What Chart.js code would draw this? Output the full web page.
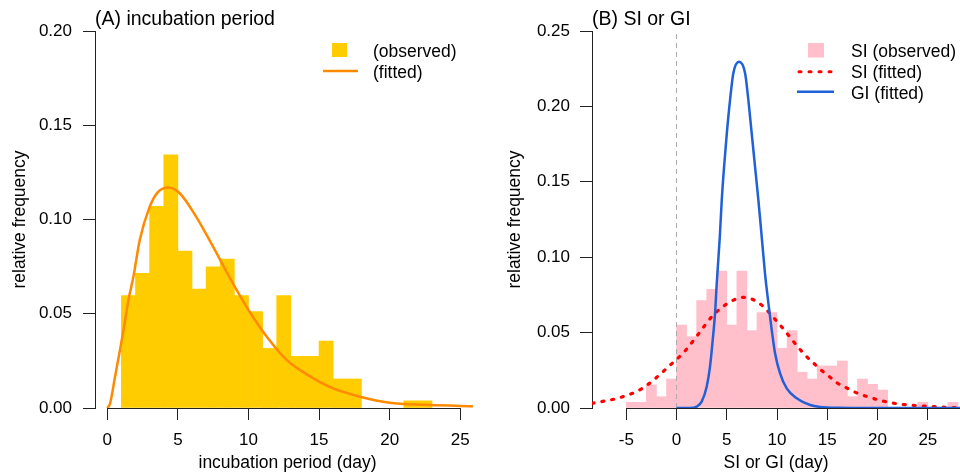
<!DOCTYPE html>
<html><head><meta charset="utf-8">
<script src="https://cdn.jsdelivr.net/npm/chart.js@4"></script>
<style>
html,body{margin:0;padding:0;background:#fff;width:960px;height:474px;overflow:hidden}
canvas{position:absolute;top:0}
#cA{left:0}
#cB{left:480px}
</style></head><body>
<canvas id="cA" width="480" height="474"></canvas>
<canvas id="cB" width="480" height="474"></canvas>
<script>
// ---------- data ----------
const incubBinStart = [1,2,3,4,5,6,7,8,9,10,11,12,13,14,15,16,17,18,19,20,21,22];
const incubFreq = [0.0596,0.0714,0.1070,0.1343,0.0832,0.0631,0.0749,0.0790,0.0596,0.0511,0.0316,0.0596,0.0274,0.0274,0.0355,0.0154,0.0154,0,0,0,0.0038,0.0038];
const incubFitDay = [0,0.2,0.55,0.9,1.15,1.5,1.85,2.3,3.0,3.6,4.35,5.15,6.3,7.5,8.9,10,11.3,12.7,14.1,16,17.9,20,22.5,25,25.9];
const incubFitFreq = [0,0.0025,0.0166,0.0308,0.0414,0.0573,0.0696,0.0891,0.1067,0.1147,0.1170,0.1138,0.1014,0.0855,0.0661,0.0520,0.0378,0.0255,0.0180,0.0104,0.0060,0.0028,0.0017,0.0011,0.0009];

const siBinStart = [-5,-4,-3,-2,-1,0,1,2,3,4,5,6,7,8,9,10,11,12,13,14,15,16,17,18,19,20,21,22,23,24,25,26,27];
const siFreq = [0.0038,0.0038,0.0153,0.0075,0.0192,0.0550,0.0473,0.0712,0.0787,0.0908,0.0550,0.0908,0.0513,0.0632,0.0632,0.0396,0.0513,0.0237,0.0192,0.0279,0.0279,0.0312,0.0075,0.0192,0.0157,0.0119,0,0,0,0.0038,0,0,0.0038];
const siFitX = [-8.41,-7.35,-6.12,-5.12,-4.2,-3.3,-2.47,-1.64,-0.72,0.02,0.85,1.51,2.17,3.66,5.0,6.0,6.8,7.64,8.64,10.3,10.8,11.46,12.79,13.55,14.28,15.21,15.94,16.87,17.86,18.76,19.85,20.92,22.07,23.4,24.63,25.8,27.05,28.2];
const siFitY = [0.0031,0.0044,0.006,0.008,0.0102,0.0135,0.0175,0.0223,0.0279,0.0323,0.0378,0.0433,0.049,0.0617,0.069,0.0725,0.0734,0.0718,0.0672,0.055,0.0511,0.0455,0.0351,0.0303,0.0257,0.0208,0.0168,0.0135,0.0102,0.008,0.0058,0.004,0.0027,0.0018,0.0013,0.0009,0.0004,0.0002];
const giFitX = [0,1.3,2.0,2.5,3.0,3.33,3.6,3.83,4.0,4.3,4.5,4.73,5.0,5.32,5.65,6.22,6.82,7.15,7.48,7.81,8.14,8.48,8.8,9.14,9.47,9.8,10.3,10.96,11.96,13.3,14.3,16,18,28.2];
const giFitY = [0,0,0.0009,0.0042,0.0141,0.0274,0.0451,0.0628,0.0827,0.113,0.138,0.160,0.182,0.204,0.222,0.2296,0.222,0.204,0.182,0.160,0.138,0.113,0.0893,0.0694,0.0517,0.0363,0.023,0.013,0.0064,0.002,0.0007,0.0001,0,0];

const incubXTicks = [0,5,10,15,20,25];
const incubYTicks = [0,0.05,0.10,0.15,0.20];
const siXTicks = [-5,0,5,10,15,20,25];
const siYTicks = [0,0.05,0.10,0.15,0.20,0.25];

const titleA = '(A) incubation period';
const titleB = '(B) SI or GI';
const xLabelA = 'incubation period (day)';
const xLabelB = 'SI or GI (day)';
const yLabel = 'relative frequency';
const legendA = ['(observed)','(fitted)'];
const legendB = ['SI (observed)','SI (fitted)','GI (fitted)'];

// ---------- styles ----------
const FAM = '"Liberation Sans", Arial, Helvetica, sans-serif';
Chart.defaults.font.family = FAM;
Chart.defaults.color = '#000';
const AX = '#222';
const YELLOW = '#FFCC00', ORANGE = '#FF8A00', PINK = '#FFC0CB', RED = '#FF0000', BLUE = '#2060D8';

const pts = (xs, ys) => xs.map((x, i) => ({x: x, y: ys[i]}));
const bars = (starts, vals) => starts.map((s, i) => ({x: s + 0.5, y: vals[i] > 0 ? vals[i] : null}));

function xScale(min, max, ticks, label, lineFrom, lineTo) {
  return {
    type: 'linear', min: min, max: max, offset: false,
    afterBuildTicks: s => { s.ticks = ticks.map(v => ({value: v})); },
    afterFit: s => { s.height = 66; },
    grid: {offset: false, drawOnChartArea: false, drawTicks: true, tickLength: 12, color: AX, lineWidth: 1},
    border: {display: false},
    ticks: {padding: 10, font: {size: 17}, color: '#000', maxRotation: 0, autoSkip: false, callback: v => String(v)},
    title: {display: true, text: label, font: {size: 17.5}, color: '#000', padding: {top: 0, bottom: 0}}
  };
}
function yScale(max, ticks, width, titlePad, tickPad) {
  return {
    type: 'linear', min: 0, max: max,
    afterBuildTicks: s => { s.ticks = ticks.map(v => ({value: v})); },
    afterFit: s => { s.width = width; },
    grid: {drawOnChartArea: false, drawTicks: true, tickLength: 12, color: AX, lineWidth: 1},
    border: {display: true, color: AX, width: 1},
    ticks: {padding: tickPad, font: {size: 17}, color: '#000', callback: v => Number(v).toFixed(2)},
    title: {display: true, text: yLabel, font: {size: 17.5}, color: '#000', padding: {top: titlePad, bottom: 0}}
  };
}

function overlay(opts) {
  return {
    id: 'overlay' + opts.key,
    afterDraw(chart) {
      const ctx = chart.ctx, ca = chart.chartArea, xs = chart.scales.x;
      ctx.save();
      // x axis line (from first tick to end)
      ctx.strokeStyle = AX; ctx.lineWidth = 1;
      const y = Math.round(ca.bottom) + 0.5;
      ctx.beginPath();
      ctx.moveTo(xs.getPixelForValue(opts.axFrom), y);
      ctx.lineTo(Math.min(xs.getPixelForValue(opts.axTo), ca.right), y);
      ctx.stroke();
      // panel title
      ctx.fillStyle = '#000';
      ctx.textBaseline = 'middle'; ctx.textAlign = 'left';
      ctx.font = '19.5px ' + FAM;
      ctx.fillText(opts.title, ca.left, 20);
      // legend
      ctx.font = '17.5px ' + FAM;
      opts.legend(ctx);
      ctx.restore();
    }
  };
}

const commonOpts = {
  responsive: false, animation: false,
  plugins: {legend: {display: false}, tooltip: {enabled: false}, title: {display: false}}
};

new Chart(document.getElementById('cA'), {
  type: 'bar',
  data: {datasets: [
    {type: 'line', label: legendA[1], data: pts(incubFitDay, incubFitFreq), borderColor: ORANGE, borderWidth: 2.5,
     pointRadius: 0, cubicInterpolationMode: 'monotone', fill: false, order: 0},
    {type: 'bar', label: legendA[0], data: bars(incubBinStart, incubFreq), backgroundColor: YELLOW, borderWidth: 0,
     barPercentage: 1, categoryPercentage: 1, grouped: false, order: 1}
  ]},
  options: Object.assign({}, commonOpts, {
    layout: {padding: {top: 31, left: 0, right: 0, bottom: 0}},
    scales: {x: xScale(-0.87, 26.4, incubXTicks, xLabelA), y: yScale(0.2, incubYTicks, 95, 9.5, 11)}
  }),
  plugins: [overlay({key: 'A', axFrom: 0, axTo: 25, title: titleA, legend: ctx => {
    ctx.fillStyle = YELLOW; ctx.fillRect(332, 43, 15, 14);
    ctx.strokeStyle = ORANGE; ctx.lineWidth = 2.5;
    ctx.beginPath(); ctx.moveTo(323, 71); ctx.lineTo(358, 71); ctx.stroke();
    ctx.fillStyle = '#000';
    ctx.fillText(legendA[0], 373, 52.5);
    ctx.fillText(legendA[1], 373, 73.5);
  }})]
});

new Chart(document.getElementById('cB'), {
  type: 'bar',
  data: {datasets: [
    {type: 'line', label: legendB[2], data: pts(giFitX, giFitY), borderColor: BLUE, borderWidth: 2.5,
     pointRadius: 0, cubicInterpolationMode: 'monotone', fill: false, order: 0},
    {type: 'line', label: legendB[1], data: pts(siFitX, siFitY), borderColor: RED, borderWidth: 3.2,
     borderDash: [2, 8], borderCapStyle: 'round', pointRadius: 0, cubicInterpolationMode: 'monotone', fill: false, order: 1},
    {type: 'line', label: 'zero', data: pts([0, 0], [0, 0.25]), borderColor: '#aaa', borderWidth: 1,
     borderDash: [5, 4], pointRadius: 0, fill: false, order: 2},
    {type: 'bar', label: legendB[0], data: bars(siBinStart, siFreq), backgroundColor: PINK, borderWidth: 0,
     barPercentage: 1, categoryPercentage: 1, grouped: false, order: 3}
  ]},
  options: Object.assign({}, commonOpts, {
    layout: {padding: {top: 31, left: 0, right: 0, bottom: 0}},
    scales: {x: xScale(-8.41, 28.2, siXTicks, xLabelB), y: yScale(0.25, siYTicks, 112, 24.5, 10)}
  }),
  plugins: [overlay({key: 'B', axFrom: -5, axTo: 40, title: titleB, legend: ctx => {
    ctx.fillStyle = PINK; ctx.fillRect(328, 43, 16, 14.5);
    ctx.strokeStyle = RED; ctx.lineWidth = 3; ctx.lineCap = 'round'; ctx.setLineDash([2, 8]);
    ctx.beginPath(); ctx.moveTo(319, 71.7); ctx.lineTo(352, 71.7); ctx.stroke();
    ctx.setLineDash([]); ctx.lineCap = 'butt';
    ctx.strokeStyle = BLUE; ctx.lineWidth = 2.5;
    ctx.beginPath(); ctx.moveTo(317, 91.7); ctx.lineTo(354, 91.7); ctx.stroke();
    ctx.fillStyle = '#000';
    ctx.fillText(legendB[0], 371, 52.5);
    ctx.fillText(legendB[1], 371, 73.5);
    ctx.fillText(legendB[2], 371, 94.5);
  }})]
});
</script>
</body></html>
